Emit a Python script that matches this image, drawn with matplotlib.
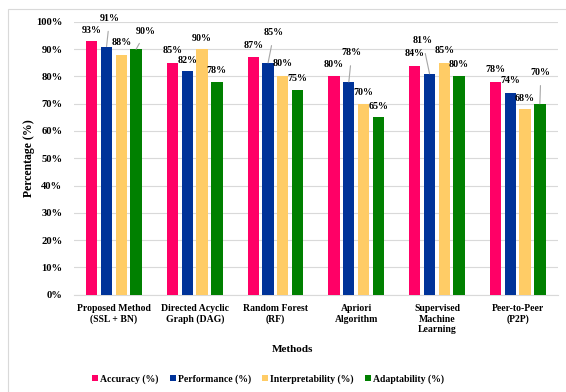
import numpy as np
import matplotlib
matplotlib.use("Agg")
import matplotlib.pyplot as plt
from matplotlib.patches import Rectangle

plt.rcParams['font.family'] = ['Liberation Serif', 'DejaVu Serif']
plt.rcParams['font.weight'] = 'bold'

methods = ['Proposed Method\n(SSL + BN)', 'Directed Acyclic\nGraph (DAG)', 'Random Forest\n(RF)',
           'Apriori\nAlgorithm', 'Supervised\nMachine\nLearning', 'Peer-to-Peer\n(P2P)']
series = ['Accuracy (%)', 'Performance (%)', 'Interpretability (%)', 'Adaptability (%)']
accuracy = [93, 85, 87, 80, 84, 78]
performance = [91, 82, 85, 78, 81, 74]
interpretability = [88, 90, 80, 70, 85, 68]
adaptability = [90, 78, 75, 65, 80, 70]
colors = ['#FF0066', '#003399', '#FFCC66', '#008000']

# label offsets in pixels (dx, dy) from bar top; leader line if far away
offsets = [
    [(0, 11), (3, 28), (0, 12), (10, 18)],
    [(0, 12), (0, 11), (0, 11), (0, 11)],
    [(0, 12), (6, 30), (0, 13), (0, 12)],
    [(0, 12), (3, 29), (0, 11), (0, 11)],
    [(0, 12), (-7, 33), (0, 12), (0, 12)],
    [(0, 12), (0, 12), (0, 11), (1, 31)],
]

values = [accuracy, performance, interpretability, adaptability]

fig = plt.figure(figsize=(5.66, 3.92), dpi=100)
ax = fig.add_axes([0.13, 0.2487, 0.856, 0.6952])

x = np.arange(len(methods))
pitch = 0.183
width = 0.14
for j, (vals, name, c) in enumerate(zip(values, series, colors)):
    pos = x + (j - 1.5) * pitch
    ax.bar(pos, vals, width=width, color=c, label=name, zorder=3)
    for i, v in enumerate(vals):
        dx, dy = offsets[i][j]
        lead = dy > 16
        ax.annotate(f'{v}%', xy=(pos[i], v), xytext=(dx, dy), textcoords='offset pixels',
                    ha='center', va='center', fontsize=7.2, fontweight='bold',
                    arrowprops=dict(arrowstyle='-', color='#A6A6A6', lw=0.8,
                                    shrinkA=4, shrinkB=0) if lead else None,
                    zorder=4)

ax.set_xlim(-0.5, 5.5)
ax.set_ylim(0, 100)
ax.set_yticks(np.arange(0, 101, 10))
ax.set_yticklabels([f'{t}%' for t in range(0, 101, 10)])
ax.set_xticks(x)
ax.set_xticklabels(methods)
ax.tick_params(axis='both', length=0, labelsize=7)
ax.tick_params(axis='y', labelsize=7.6, pad=8)
ax.tick_params(axis='x', pad=7)
ax.grid(axis='y', color='#D9D9D9', lw=0.8, zorder=0)
for s in ['top', 'right', 'left']:
    ax.spines[s].set_visible(False)
ax.spines['bottom'].set_color('#D9D9D9')

fig.text(29 / 566, 1 - 158 / 392, 'Percentage (%)', rotation=90, ha='center', va='center',
         fontsize=8.5, fontweight='bold')
fig.text(292 / 566, 1 - 349 / 392, 'Methods', ha='center', va='center', fontsize=8,
         fontweight='bold')

fig.legend(loc='center', bbox_to_anchor=(268 / 566, 1 - 379 / 392), ncol=4, frameon=False,
           fontsize=7, handlelength=0.6, handleheight=0.6, handletextpad=0.2,
           columnspacing=1.2)

fig.patches.append(Rectangle((8 / 566, -0.1), 1.2, 1 - 9 / 392 + 0.1, transform=fig.transFigure,
                             fill=False, edgecolor='#D9D9D9', lw=0.8))

fig.savefig('out.png', dpi=100)
